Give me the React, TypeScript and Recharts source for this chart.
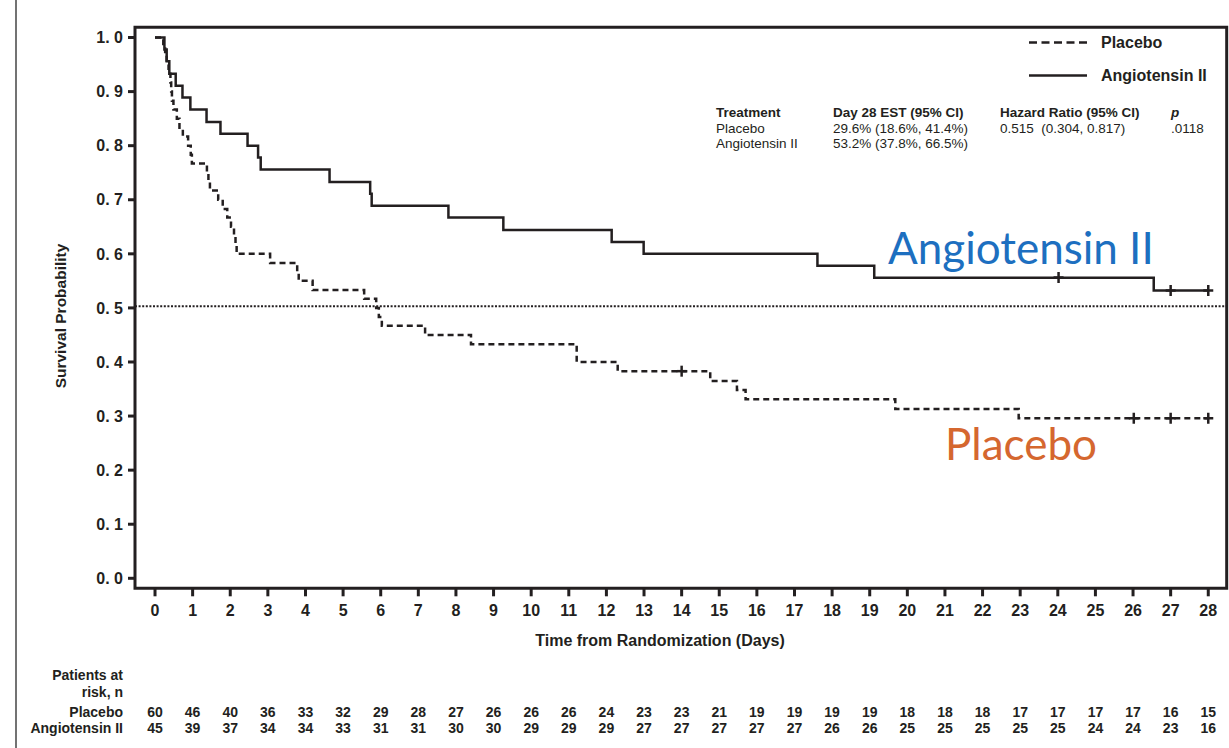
import React from "react";
import {
  ComposedChart,
  Line,
  Scatter,
  XAxis,
  YAxis,
  ReferenceLine,
  ReferenceArea,
} from "recharts";

const INK = "#231f20";
const BLUE = "#1d6fc0";
const ORANGE = "#d5672f";
const FONT = '"Liberation Sans", Arial, sans-serif';

// x ticks (days) and y ticks
const DAYS = [0, 1, 2, 3, 4, 5, 6, 7, 8, 9, 10, 11, 12, 13, 14, 15, 16, 17, 18, 19, 20, 21, 22, 23, 24, 25, 26, 27, 28];
const Y_TICKS = [0, 0.1, 0.2, 0.3, 0.4, 0.5, 0.6, 0.7, 0.8, 0.9, 1.0];

// Kaplan-Meier steps
const placeboTimes = [0, 0.22, 0.27, 0.31, 0.36, 0.41, 0.43, 0.45, 0.49, 0.58, 0.65, 0.74, 0.88, 0.95, 0.98, 1.38, 1.42, 1.46, 1.68, 1.8, 1.92, 2.02, 2.1, 2.14, 2.17, 3.06, 3.78, 3.82, 4.19, 5.56, 5.88, 5.95, 6.03, 7.18, 8.4, 11.21, 12.3, 14.76, 15.47, 15.7, 19.68, 22.96, 28];
const placeboSurv = [1, 0.983, 0.967, 0.95, 0.933, 0.917, 0.9, 0.883, 0.867, 0.85, 0.833, 0.817, 0.8, 0.783, 0.767, 0.75, 0.733, 0.717, 0.7, 0.683, 0.667, 0.65, 0.633, 0.617, 0.6, 0.583, 0.567, 0.55, 0.533, 0.517, 0.5, 0.483, 0.467, 0.45, 0.433, 0.4, 0.383, 0.365, 0.348, 0.331, 0.313, 0.296, 0.296];
const placeboCensor = [14.0, 26.02, 27.0, 28.0];

const angioTimes = [0, 0.25, 0.31, 0.38, 0.55, 0.73, 0.94, 1.37, 1.74, 2.46, 2.74, 2.81, 4.64, 5.72, 5.76, 7.8, 9.26, 12.14, 12.99, 17.61, 19.12, 26.55, 28];
const angioSurv = [1, 0.978, 0.956, 0.933, 0.911, 0.889, 0.867, 0.844, 0.822, 0.8, 0.778, 0.756, 0.733, 0.711, 0.689, 0.667, 0.644, 0.622, 0.6, 0.578, 0.556, 0.532, 0.532];
const angioCensor = [24.02, 27.0, 28.0];

// patients at risk
const placeboRisk = [60, 46, 40, 36, 33, 32, 29, 28, 27, 26, 26, 26, 24, 23, 23, 21, 19, 19, 19, 19, 18, 18, 18, 17, 17, 17, 17, 16, 15];
const angioRisk = [45, 39, 37, 34, 34, 33, 31, 31, 30, 30, 29, 29, 29, 27, 27, 27, 27, 27, 26, 26, 25, 25, 25, 25, 25, 24, 24, 23, 16];

const MEDIAN_LINE = 0.503;
const X_DOMAIN: [number, number] = [-0.532, 28.49];
const Y_DOMAIN: [number, number] = [-0.0185, 1.0189];

const toRows = (times: number[], surv: number[]) => times.map((t, i) => ({ t, s: surv[i] }));
const survAt = (times: number[], surv: number[], t: number) => {
  let v = surv[0];
  times.forEach((x, i) => {
    if (x <= t) v = surv[i];
  });
  return v;
};

const placeboData = toRows(placeboTimes, placeboSurv);
const angioData = toRows(angioTimes, angioSurv);
const placeboCensorData = placeboCensor.map((t) => ({ t, s: survAt(placeboTimes, placeboSurv, t) }));
const angioCensorData = angioCensor.map((t) => ({ t, s: survAt(angioTimes, angioSurv, t) }));

const Plus = (props: any) => {
  const { cx, cy } = props;
  if (cx == null || cy == null) return null;
  return (
    <g stroke={INK} strokeWidth={2.5}>
      <line x1={cx - 5} x2={cx + 5} y1={cy} y2={cy} />
      <line x1={cx} x2={cx} y1={cy - 5.5} y2={cy + 5.5} />
    </g>
  );
};

const tickStyle = { fontSize: 16, fontWeight: 700, fill: INK, fontFamily: FONT };
const riskStyle = { fontSize: 14, fontWeight: 700, fill: INK, fontFamily: FONT };

function Overlay() {
  const t = { fontFamily: FONT, fill: INK };
  return (
    <svg
      width={1229}
      height={748}
      style={{ position: "absolute", left: 0, top: 0, pointerEvents: "none" }}
    >
      <line x1={16} x2={16} y1={0} y2={748} stroke="#444" strokeWidth={1.5} />

      {/* legend */}
      <line x1={1029} x2={1087} y1={42.5} y2={42.5} stroke={INK} strokeWidth={2.5} strokeDasharray="8 4.5" />
      <text x={1101} y={48} fontSize={16} fontWeight={700} {...t}>Placebo</text>
      <line x1={1029} x2={1087} y1={75.5} y2={75.5} stroke={INK} strokeWidth={2.5} />
      <text x={1101} y={81} fontSize={16} fontWeight={700} {...t}>Angiotensin II</text>

      {/* stats table */}
      <g fontSize={13.5} {...t}>
        <text x={716} y={117} fontWeight={700}>Treatment</text>
        <text x={716} y={132.5}>Placebo</text>
        <text x={716} y={148}>Angiotensin II</text>
        <text x={833} y={117} fontWeight={700}>Day 28 EST (95% CI)</text>
        <text x={833} y={132.5}>29.6% (18.6%, 41.4%)</text>
        <text x={833} y={148}>53.2% (37.8%, 66.5%)</text>
        <text x={1000} y={117} fontWeight={700}>Hazard Ratio (95% CI)</text>
        <text x={1000} y={132.5} xmlSpace="preserve">0.515  (0.304, 0.817)</text>
        <text x={1171} y={117} fontWeight={700} fontStyle="italic">p</text>
        <text x={1171} y={132.5}>.0118</text>
      </g>

      {/* axis titles */}
      <text
        transform="translate(65.5,316) rotate(-90)"
        textAnchor="middle"
        fontSize={15.5}
        fontWeight={700}
        {...t}
      >
        Survival Probability
      </text>
      <text x={660} y={646} textAnchor="middle" fontSize={16} fontWeight={700} {...t}>
        Time from Randomization (Days)
      </text>

      {/* risk table labels */}
      <g fontSize={14} fontWeight={700} textAnchor="end" {...t}>
        <text x={123} y={680}>Patients at</text>
        <text x={123} y={697}>risk, n</text>
        <text x={123} y={717}>Placebo</text>
        <text x={123} y={733}>Angiotensin II</text>
      </g>

      {/* curve annotations */}
      <text x={888} y={264} fontSize={44} fontFamily="Lato, 'Open Sans', sans-serif" fill={BLUE}>
        Angiotensin II
      </text>
      <text x={945} y={460} fontSize={44} fontFamily="Lato, 'Open Sans', sans-serif" fill={ORANGE}>
        Placebo
      </text>
    </svg>
  );
}

export default function App() {
  return (
    <div style={{ position: "absolute", left: 0, top: 0, width: 1229, height: 748, background: "#fff" }}>
      <ComposedChart
        width={1229}
        height={748}
        margin={{ top: 27.3, right: 2.3, bottom: 7.7, left: 15 }}
      >
        <XAxis
          type="number"
          dataKey="t"
          domain={X_DOMAIN}
          allowDataOverflow
          ticks={DAYS}
          interval={0}
          height={62}
          axisLine={false}
          tickSize={8}
          tickMargin={8}
          tickLine={{ stroke: INK, strokeWidth: 3 }}
          tick={tickStyle}
        />
        <XAxis
          xAxisId="risk1"
          type="number"
          dataKey="t"
          domain={X_DOMAIN}
          allowDataOverflow
          ticks={DAYS}
          interval={0}
          height={70}
          axisLine={false}
          tickLine={false}
          tickSize={0}
          tickMargin={56.7}
          tick={riskStyle}
          tickFormatter={(d: number) => String(placeboRisk[d])}
        />
        <XAxis
          xAxisId="risk2"
          type="number"
          dataKey="t"
          domain={X_DOMAIN}
          allowDataOverflow
          ticks={DAYS}
          interval={0}
          height={20}
          axisLine={false}
          tickLine={false}
          tickSize={0}
          tickMargin={2.8}
          tick={riskStyle}
          tickFormatter={(d: number) => String(angioRisk[d])}
        />
        <YAxis
          type="number"
          domain={Y_DOMAIN}
          allowDataOverflow
          ticks={Y_TICKS}
          interval={0}
          width={120}
          axisLine={false}
          tickSize={7}
          tickMargin={5}
          tickLine={{ stroke: INK, strokeWidth: 3 }}
          tick={tickStyle}
          tickFormatter={(v: number) => v.toFixed(1).replace(".", ". ")}
        />
        <ReferenceLine
          y={MEDIAN_LINE}
          stroke={INK}
          strokeWidth={2}
          strokeDasharray="2 1.6"
        />
        <Line
          data={placeboData}
          dataKey="s"
          type="stepAfter"
          stroke={INK}
          strokeWidth={2.5}
          strokeDasharray="6 4"
          dot={false}
          isAnimationActive={false}
        />
        <Line
          data={angioData}
          dataKey="s"
          type="stepAfter"
          stroke={INK}
          strokeWidth={2.5}
          dot={false}
          isAnimationActive={false}
        />
        <Scatter data={placeboCensorData} dataKey="s" shape={Plus} isAnimationActive={false} />
        <Scatter data={angioCensorData} dataKey="s" shape={Plus} isAnimationActive={false} />
        <ReferenceArea
          x1={X_DOMAIN[0]}
          x2={X_DOMAIN[1]}
          y1={Y_DOMAIN[0]}
          y2={Y_DOMAIN[1]}
          fill="none"
          fillOpacity={0}
          stroke={INK}
          strokeWidth={3}
        />
      </ComposedChart>
      <Overlay />
    </div>
  );
}
